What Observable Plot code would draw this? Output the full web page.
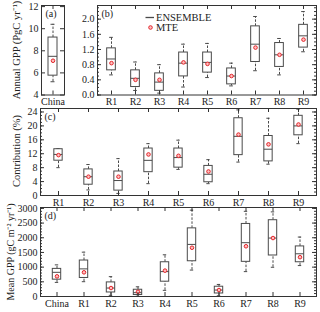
<!DOCTYPE html>
<html><head><meta charset="utf-8">
<script src="https://cdn.jsdelivr.net/npm/d3@7"></script>
<script src="https://cdn.jsdelivr.net/npm/@observablehq/plot@0.6"></script>
<style>
body{margin:0;background:#fff;}
#c{position:relative;width:320px;height:312px;font-family:"Liberation Serif",serif;color:#222;overflow:hidden;}
#c svg.p{position:absolute;left:0;top:0;}
#leg{position:absolute;left:0;top:0;}
</style></head><body><div id="c"></div>
<script>
// ---------- data ----------
const chinaCat = ["China"];
const regions = ["R1","R2","R3","R4","R5","R6","R7","R8","R9"];
const allCats = ["China","R1","R2","R3","R4","R5","R6","R7","R8","R9"];

// (a) Annual GPP China (PgC/yr)
const aLo  = [5.2];
const aQ1  = [5.75];
const aMed = [7.5];
const aQ3  = [9.2];
const aHi  = [10.4];
const aMTE = [7.1];

// (b) Annual GPP by region (PgC/yr)
const bLo  = [0.53,0.12,0.05,0.21,0.46,0.24,0.64,0.53,1.14];
const bQ1  = [0.65,0.21,0.11,0.49,0.59,0.28,0.87,0.74,1.25];
const bMed = [0.95,0.44,0.34,0.84,0.86,0.50,1.34,1.06,1.56];
const bQ3  = [1.23,0.65,0.57,1.12,1.12,0.70,1.81,1.37,1.85];
const bHi  = [1.52,0.87,0.80,1.34,1.36,0.84,2.07,1.49,2.20];
const bMTE = [0.84,0.40,0.40,0.86,0.82,0.50,1.25,1.06,1.46];

// (c) Contribution (%)
const cLo  = [8.0,1.6,0.6,3.4,7.5,3.4,9.6,9.0,14.9];
const cQ1  = [10.0,3.1,1.4,6.7,8.0,3.8,11.6,9.8,17.3];
const cMed = [11.8,5.4,4.3,10.1,10.9,6.1,17.0,13.3,20.0];
const cQ3  = [13.3,7.5,6.9,13.5,13.5,8.5,22.2,17.1,22.9];
const cHi  = [13.5,8.9,10.6,14.9,15.9,10.3,24.6,22.2,24.8];
const cMTE = [11.6,5.4,5.4,11.8,11.4,6.9,17.5,14.7,20.4];

// (d) Mean GPP (gC m-2 yr-1)
const dLo  = [480,504,40,10,210,900,24,847,995,1053];
const dQ1  = [573,631,137,50,504,1200,103,1180,1396,1166];
const dMed = [823,940,288,130,847,1773,220,1832,1990,1454];
const dQ3  = [940,1225,480,230,1166,2320,333,2470,2597,1705];
const dHi  = [1077,1509,676,330,1420,2940,410,2900,2881,2024];
const dMTE = [686,823,288,160,881,1660,220,1710,1990,1338];

// tick values
const aTicks = [4,6,8,10,12];
const bTicks = [0,0.4,0.8,1.2,1.6,2.0];
const bMinor = d3.range(0,2.36,0.1);
const cTicks = [0,4,8,12,16,20,24];
const cMinor = d3.range(0,25.1,1);
const dTicks = [0,500,1000,1500,2000,2500,3000];
const dMinor = d3.range(0,3001,100);

// axis titles
const yTitles = ["Annual GPP (PgC yr⁻¹)", "Contribution (%)", "Mean GPP (gC m⁻² yr⁻¹)"];
const legendItems = ["ENSEMBLE", "MTE"];

// ---------- drawing ----------
const W = 320, H = 312;
const LINE = "#4a4a4a", RED = "#e3262b", DOTFILL = "#ffc0c0";

function panel(o){
  const fw = W - o.ml - o.mr, fh = H - o.mt - o.mb;
  const bw = fw / o.cats.length;
  const data = o.cats.map((c,i)=>({c, lo:o.lo[i], q1:o.q1[i], med:o.med[i], q3:o.q3[i], hi:o.hi[i], mte:o.mte[i]}));
  const boxIn = (bw - 9) / 2, capIn = (bw - 4) / 2;
  const tk = 4, mk = 2;
  const svg = Plot.plot({
    width: W, height: H,
    marginLeft: o.ml, marginRight: o.mr, marginTop: o.mt, marginBottom: o.mb,
    style: {background: "transparent", fontFamily: "'Liberation Serif', serif", fontSize: "10px", color: "#222", overflow: "visible"},
    x: {type: "band", domain: o.cats, padding: 0, axis: null, label: null},
    y: {domain: o.domain, axis: null, label: null},
    marks: [
      Plot.ruleX(data, {x: "c", y1: "lo", y2: "q1", stroke: LINE, strokeDasharray: "2.5,1.5"}),
      Plot.ruleX(data, {x: "c", y1: "q3", y2: "hi", stroke: LINE, strokeDasharray: "2.5,1.5"}),
      Plot.tickY(data, {x: "c", y: "lo", insetLeft: capIn, insetRight: capIn, stroke: LINE}),
      Plot.tickY(data, {x: "c", y: "hi", insetLeft: capIn, insetRight: capIn, stroke: LINE}),
      Plot.barY(data, {x: "c", y1: "q1", y2: "q3", fill: "white", stroke: LINE, insetLeft: boxIn, insetRight: boxIn}),
      Plot.tickY(data, {x: "c", y: "med", insetLeft: boxIn, insetRight: boxIn, stroke: LINE}),
      Plot.dot(data, {x: "c", y: "mte", r: 1.8, stroke: RED, strokeWidth: 1, fill: DOTFILL}),
      Plot.frame({stroke: "#333"}),
      Plot.tickY(o.minor, {y: d => d, insetRight: fw - mk, stroke: "#333"}),
      Plot.tickY(o.minor, {y: d => d, insetLeft: fw - mk, stroke: "#333"}),
      Plot.tickY(o.ticks, {y: d => d, insetRight: fw - tk, stroke: "#333"}),
      Plot.tickY(o.ticks, {y: d => d, insetLeft: fw - tk, stroke: "#333"}),
      Plot.tickX(o.cats, {x: d => d, insetTop: fh - tk, stroke: "#333"}),
      Plot.tickX(o.cats, {x: d => d, insetBottom: fh - tk, stroke: "#333"}),
      Plot.axisY({ticks: o.ticks, tickSize: 0, tickPadding: 3, tickFormat: o.fmt, label: null, fontSize: 10}),
      Plot.axisX({tickSize: 0, tickPadding: 3, label: null, fontSize: 10}),
      Plot.text([o.label], {text: d => d, frameAnchor: "top-left", dx: 4, dy: 4, textAnchor: "start", lineAnchor: "top", fontSize: 10, fill: "#222"})
    ]
  });
  svg.classList.add("p");
  return svg;
}

const root = document.getElementById("c");
root.append(panel({cats: chinaCat, lo: aLo, q1: aQ1, med: aMed, q3: aQ3, hi: aHi, mte: aMTE,
  domain: [4, 12.1], ticks: aTicks, minor: [], fmt: d3.format("d"), label: "(a)",
  ml: 41, mr: 256, mt: 5, mb: 217.5}));
root.append(panel({cats: regions, lo: bLo, q1: bQ1, med: bMed, q3: bQ3, hi: bHi, mte: bMTE,
  domain: [0, 2.36], ticks: bTicks, minor: bMinor, fmt: d3.format(".1f"), label: "(b)",
  ml: 97, mr: 4, mt: 5, mb: 217.5}));
root.append(panel({cats: regions, lo: cLo, q1: cQ1, med: cMed, q3: cQ3, hi: cHi, mte: cMTE,
  domain: [0, 25], ticks: cTicks, minor: cMinor, fmt: d3.format("d"), label: "(c)",
  ml: 40, mr: 4, mt: 108, mb: 117}));
root.append(panel({cats: allCats, lo: dLo, q1: dQ1, med: dMed, q3: dQ3, hi: dHi, mte: dMTE,
  domain: [0, 3030], ticks: dTicks, minor: dMinor, fmt: d3.format("d"), label: "(d)",
  ml: 40, mr: 4, mt: 207, mb: 16}));

// overlay: y titles + legend
const titlePos = [{x: 16.5, y: 50, s: 10.5}, {x: 16, y: 151, s: 10.5}, {x: 10, y: 252, s: 10}];
const ns = "http://www.w3.org/2000/svg";
const ov = document.createElementNS(ns, "svg");
ov.setAttribute("id", "leg");
ov.setAttribute("width", W);
ov.setAttribute("height", H);
let html = "";
yTitles.forEach((t, i) => {
  const p = titlePos[i];
  html += `<text transform="translate(${p.x},${p.y}) rotate(-90)" text-anchor="middle" dominant-baseline="central" font-size="${p.s}" font-family="Liberation Serif, serif" fill="#222">${t}</text>`;
});
html +=
  `<line x1="145.5" x2="154" y1="17.5" y2="17.5" stroke="${LINE}" stroke-width="1.3"/>` +
  `<circle cx="150.5" cy="27.5" r="1.8" stroke="${RED}" stroke-width="1" fill="${DOTFILL}"/>` +
  `<text x="156" y="21" font-size="10.5" font-family="Liberation Serif, serif" fill="#222">${legendItems[0]}</text>` +
  `<text x="156" y="31" font-size="10.5" font-family="Liberation Serif, serif" fill="#222">${legendItems[1]}</text>`;
ov.innerHTML = html;
root.append(ov);
</script>
</body></html>
